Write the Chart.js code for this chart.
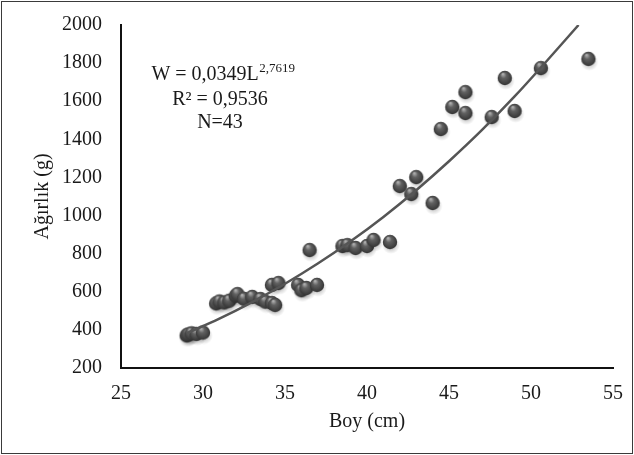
<!DOCTYPE html>
<html>
<head>
<meta charset="utf-8">
<script src="https://cdn.jsdelivr.net/npm/chart.js@4/dist/chart.umd.min.js"></script>
<style>
    html, body { margin: 0; padding: 0; background: #fff; }
    #wrap { width: 634px; height: 455px; }
</style>
</head>
<body>
<div id="wrap"><canvas id="lwChart" width="634" height="455"></canvas></div>
<script>
// Length-weight data
const boyValues = [29.0, 29.1, 29.3, 29.6, 30.0, 30.8, 31.0, 31.3, 31.6, 32.0, 32.1, 32.5, 33.0, 33.5,
    33.8, 34.2, 34.4, 34.2, 34.6, 35.8, 36.0, 36.3, 36.95, 36.5, 38.5, 38.8, 39.3, 40.0, 40.4, 41.4,
    42.0, 42.7, 43.0, 44.0, 44.5, 45.2, 46.0, 46.0, 47.6, 48.4, 49.0, 50.6, 53.5];
const agirlikValues = [371, 376, 382, 379, 386, 539, 549, 544, 553, 579, 588, 563, 573, 562,
    548, 541, 531, 636, 646, 636, 608, 620, 636, 819, 840, 845, 830, 840, 872, 861,
    1155, 1113, 1202, 1066, 1454, 1570, 1538, 1648, 1517, 1722, 1549, 1774, 1822];

// Power trend line W = 0,0349 L^2,7619
const trendBoy = [29, 31, 33, 35, 37, 39, 41, 43, 45, 47, 49, 51, 52.9];
const trendAgirlik = [382, 459, 546, 642, 748, 865, 993, 1133, 1285, 1448, 1625, 1815, 2000];

const xTicks = [25, 30, 35, 40, 45, 50, 55];
const yTicks = [200, 400, 600, 800, 1000, 1200, 1400, 1600, 1800, 2000];

const FONT = "'Liberation Serif', 'Times New Roman', serif";
const TEXT_COLOR = '#1a1a1a';

// sphere marker image
function makeSphere() {
    const c = document.createElement('canvas');
    c.width = 24; c.height = 24;
    const g = c.getContext('2d');
    // soft shadow
    const sh = g.createRadialGradient(13, 15, 1, 13, 15, 9);
    sh.addColorStop(0, 'rgba(0,0,0,0.3)');
    sh.addColorStop(1, 'rgba(0,0,0,0)');
    g.fillStyle = sh;
    g.beginPath(); g.arc(13, 15, 9, 0, Math.PI * 2); g.fill();
    // ball
    const grad = g.createRadialGradient(10, 8, 0.5, 12, 12, 7.5);
    grad.addColorStop(0, '#b0b0b0');
    grad.addColorStop(0.35, '#616161');
    grad.addColorStop(1, '#333333');
    g.fillStyle = grad;
    g.beginPath(); g.arc(12, 12, 7.2, 0, Math.PI * 2); g.fill();
    return c;
}

const scatterPoints = boyValues.map((b, i) => ({ x: b, y: agirlikValues[i] }));
const trendPoints = trendBoy.map((b, i) => ({ x: b, y: trendAgirlik[i] }));

const frameAndNotes = {
    id: 'frameAndNotes',
    afterDraw(chart) {
        const ctx = chart.ctx;
        ctx.save();
        // outer frame
        ctx.strokeStyle = '#3a3a3a';
        ctx.lineWidth = 1;
        ctx.strokeRect(1.5, 1.5, chart.width - 3, chart.height - 3);

        // equation text
        ctx.fillStyle = TEXT_COLOR;
        ctx.textBaseline = 'middle';
        const big = '20px ' + FONT, small = '13px ' + FONT;
        const cx = 220;
        const l1 = 'W = 0,0349L', sup = '2,7619';
        ctx.font = big; const w1 = ctx.measureText(l1).width;
        ctx.font = small; const w2 = ctx.measureText(sup).width;
        let sx = cx + 3 - (w1 + w2) / 2;
        ctx.textAlign = 'left';
        ctx.font = big; ctx.fillText(l1, sx, 75);
        ctx.font = small; ctx.fillText(sup, sx + w1 + 0.5, 69);
        ctx.textAlign = 'center';
        ctx.font = big;
        ctx.fillText('R² = 0,9536', cx, 100);
        ctx.fillText('N=43', cx, 123);
        ctx.restore();
    }
};

const sphere = makeSphere();

new Chart(document.getElementById('lwChart'), {
    type: 'scatter',
    data: {
        datasets: [
            {
                type: 'line',
                data: trendPoints,
                borderColor: '#555555',
                borderWidth: 2.5,
                pointRadius: 0,
                fill: false,
                cubicInterpolationMode: 'monotone',
                order: 0
            },
            {
                data: scatterPoints,
                pointStyle: sphere,
                pointRadius: 8,
                order: 1
            }
        ]
    },
    options: {
        responsive: false,
        animation: false,
        layout: { padding: { left: 0, top: 25, right: 21, bottom: 0 } },
        plugins: {
            legend: { display: false },
            tooltip: { enabled: false }
        },
        scales: {
            x: {
                type: 'linear',
                min: 25, max: 55,
                afterBuildTicks: s => { s.ticks = xTicks.map(v => ({ value: v })); },
                afterFit: s => { s.height = 87; s.paddingLeft = 0; s.paddingRight = 0; },
                grid: { display: false, drawTicks: false },
                border: { display: true, color: '#111', width: 2 },
                ticks: { padding: 14, color: TEXT_COLOR, font: { family: FONT, size: 20 },
                    callback: v => String(v) },
                title: { display: true, text: 'Boy (cm)', color: TEXT_COLOR,
                    font: { family: FONT, size: 20 }, padding: { top: 0, bottom: 21 } }
            },
            y: {
                min: 200, max: 2000,
                afterBuildTicks: s => { s.ticks = yTicks.map(v => ({ value: v })); },
                afterFit: s => { s.width = 121; s.paddingTop = 0; s.paddingBottom = 0; },
                grid: { display: false, drawTicks: false },
                border: { display: true, color: '#111', width: 2 },
                ticks: { padding: 19, color: TEXT_COLOR, font: { family: FONT, size: 20 },
                    callback: v => String(v) },
                title: { display: true, text: 'Ağırlık (g)', color: TEXT_COLOR,
                    font: { family: FONT, size: 20 }, padding: { top: 31, bottom: 0 } }
            }
        }
    },
    plugins: [frameAndNotes]
});
</script>
</body>
</html>
